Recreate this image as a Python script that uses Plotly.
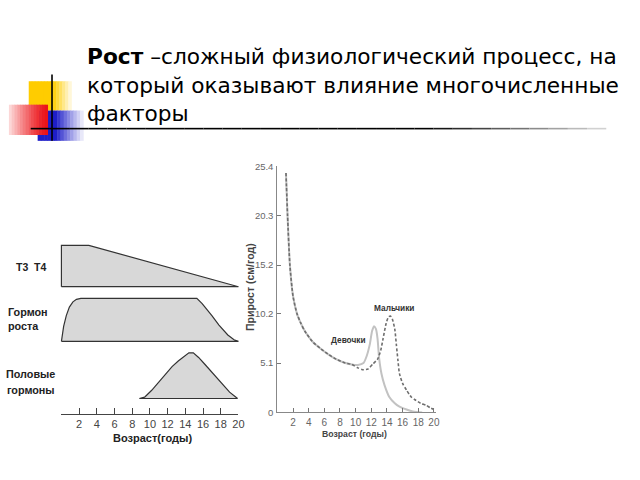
import plotly.graph_objects as go

W, H = 640, 480
def px(x): return x / W
def py(y): return 1 - y / H

# ---------------- data ----------------
# left panel: relative hormone levels vs age (years)
t3t4_age = [0, 0, 3.1, 20]
t3t4_level = [0, 1, 1, 0]
gh_age = [0, 0.25, 0.55, 0.9, 1.3, 1.7, 2.2, 15.3, 15.9, 16.5, 17.0, 17.8, 18.8, 19.5, 20]
gh_level = [0, 0.35, 0.6, 0.8, 0.92, 0.98, 1.0, 1.0, 0.88, 0.74, 0.6, 0.38, 0.15, 0.04, 0]
sex_age = [8.8, 9.4, 10.2, 11.0, 11.7, 12.5, 13.2, 13.9, 14.4, 14.9, 15.5, 16.2, 17.1, 18.1, 19.0, 19.9]
sex_level = [0, 0.03, 0.18, 0.36, 0.54, 0.7, 0.82, 0.93, 1.0, 1.0, 0.9, 0.75, 0.55, 0.32, 0.14, 0]
left_ticks = [0, 2, 4, 6, 8, 10, 12, 14, 16, 18, 20]
left_ticktext = ["", "2", "4", "6", "8", "10", "12", "14", "16", "18", "20"]

# right panel: growth velocity (cm/year)
girls_age = [1.1, 1.3, 1.6, 2.0, 2.5, 3.0, 3.5, 4.5, 5.5, 6.5, 7.5, 8.5, 9.5, 10.3, 11.0, 11.4,
             11.8, 12.1, 12.35, 12.6, 12.8, 13.0, 13.3, 13.7, 14.3, 15.0, 15.6, 16.5, 17.3, 18.5]
girls_vel = [24.7, 20.3, 15.2, 12.0, 10.2, 9.2, 8.4, 7.3, 6.6, 6.0, 5.5, 5.15, 4.95, 4.9, 5.1, 5.8,
             7.0, 8.4, 8.9, 8.6, 7.6, 5.6, 4.0, 2.8, 1.6, 0.95, 0.6, 0.3, 0.1, 0.0]
boys_age = [1.1, 1.3, 1.6, 2.0, 2.5, 3.0, 3.5, 4.5, 5.5, 6.5, 7.5, 8.5, 9.5, 10.3, 11.0, 11.6,
            12.2, 12.8, 13.2, 13.5, 13.9, 14.2, 14.45, 14.7, 15.0, 15.2, 15.4, 15.6, 16.0, 16.5,
            17.1, 17.7, 18.3, 19.0, 19.6, 20.2]
boys_vel = [24.7, 20.3, 15.2, 12.0, 10.2, 9.2, 8.4, 7.3, 6.6, 6.0, 5.5, 5.15, 4.95, 4.6, 4.4, 4.5,
            5.0, 5.5, 6.4, 7.6, 9.2, 9.85, 9.95, 9.6, 8.6, 7.0, 5.4, 4.0, 3.0, 2.3,
            1.6, 1.25, 0.95, 0.75, 0.45, 0.25]
right_yticks = [0, 5.1, 10.2, 15.2, 20.3, 25.4]
right_xticks = [2, 4, 6, 8, 10, 12, 14, 16, 18, 20]

FONT_N = "Liberation Sans Narrow, Liberation Sans, Arial"
fig = go.Figure()

def close(xs, ys):
    return list(xs) + [xs[0]], list(ys) + [0]

fill_kw = dict(mode="lines", fill="toself", fillcolor="#d8d8d8",
               line=dict(color="#333333", width=1.2), hoverinfo="skip", showlegend=False)
x, y = close(t3t4_age, t3t4_level)
fig.add_trace(go.Scatter(x=x, y=y, xaxis="x", yaxis="y", **fill_kw))
x, y = close(gh_age, gh_level)
fig.add_trace(go.Scatter(x=x, y=y, xaxis="x", yaxis="y2", **fill_kw))
x, y = close(sex_age, sex_level)
fig.add_trace(go.Scatter(x=x, y=y, xaxis="x2", yaxis="y3", **fill_kw))

fig.add_trace(go.Scatter(x=girls_age, y=girls_vel, xaxis="x3", yaxis="y4", mode="lines",
                         line=dict(color="#c2c2c2", width=2, shape="spline", smoothing=0.6),
                         hoverinfo="skip", showlegend=False))
fig.add_trace(go.Scatter(x=boys_age, y=boys_vel, xaxis="x3", yaxis="y4", mode="lines",
                         line=dict(color="#6e6e6e", width=1.6, dash="3px,2px", shape="spline", smoothing=0.6),
                         hoverinfo="skip", showlegend=False))

# left x scale: 0 -> 62px, 20 -> 240.7px
x0p, x20p = 62.0, 240.7
u = (x20p - x0p) / 20
pad = 0.5
def strip_domain(base, top, m=0.04):
    h = base - top
    return [py(base + m * h), py(top - m * h)]

hidden = dict(visible=False, fixedrange=True)
fig.update_layout(
    width=W, height=H, margin=dict(l=0, r=0, t=0, b=0),
    paper_bgcolor="white", plot_bgcolor="rgba(0,0,0,0)",
    xaxis=dict(domain=[px(x0p - pad * u), px(x20p + pad * u)], range=[-pad, 20 + pad],
               anchor="y", **hidden),
    xaxis2=dict(domain=[px(x0p), px(x20p)], range=[0, 20], anchor="free", position=py(417.7),
                tickvals=left_ticks, ticktext=left_ticktext, ticks="inside", ticklen=6,
                tickcolor="#444", showline=True, linecolor="#444", linewidth=1.2,
                showgrid=False, zeroline=False, fixedrange=True,
                tickfont=dict(family=FONT_N, size=11, color="#444")),
    yaxis=dict(domain=strip_domain(287.3, 245), range=[-0.04, 1.04], anchor="x", **hidden),
    yaxis2=dict(domain=strip_domain(343.3, 299.3), range=[-0.04, 1.04], anchor="x", **hidden),
    yaxis3=dict(domain=strip_domain(401.7, 355), range=[-0.04, 1.04], anchor="x2", **hidden),
    xaxis3=dict(domain=[px(280), px(440)], range=[0, 20.25], anchor="y4",
                tickvals=right_xticks, ticks="inside", ticklen=4, tickcolor="#777",
                showline=True, linecolor="#888", linewidth=1.2, showgrid=False, zeroline=False,
                fixedrange=True, tickfont=dict(family=FONT_N, size=10, color="#666")),
    yaxis4=dict(domain=[py(416), py(164)], range=[0, 25.4], anchor="x3",
                tickvals=right_yticks, ticktext=[str(v) if v else "0" for v in right_yticks],
                ticks="inside", ticklen=4, tickcolor="#777", ticklabelstandoff=1,
                showline=True, linecolor="#888", linewidth=1.2, showgrid=False, zeroline=False,
                fixedrange=True, tickfont=dict(family=FONT_N, size=9.5, color="#666")),
)

ann = []
def A(text, x, y, size, color="#222", xanchor="center", family=FONT_N, angle=0):
    ann.append(dict(text=text, x=px(x), y=py(y), xref="paper", yref="paper", showarrow=False,
                    xanchor=xanchor, yanchor="middle", textangle=angle,
                    font=dict(family=family, size=size, color=color)))

TF = "DejaVu Sans"
A("<b>Рост</b> –сложный физиологический процесс, на", 86, 52, 21.7, "#000", "left", TF)
A("который оказывают влияние многочисленные", 86, 81, 21.7, "#000", "left", TF)
A("факторы", 86, 110, 21.7, "#000", "left", TF)

A("<b>T3  T4</b>", 32, 267, 10.5)
A("<b>Гормон</b>", 28.5, 313, 10.8)
A("<b>роста</b>", 24, 327, 10.8)
A("<b>Половые</b>", 31, 377, 10.8)
A("<b>гормоны</b>", 31, 393, 10.8)
A("<b>Возраст(годы)</b>", 154, 442, 11)

A("<b>Прирост (см/год)</b>", 253, 288, 10.5, "#444", angle=-90)
A("<b>Возраст (годы)</b>", 358, 438, 8.7, "#444")
A("<b>Мальчики</b>", 398, 309, 8.3, "#333")
A("<b>Девочки</b>", 352, 342, 8.3, "#333")
fig.update_layout(annotations=ann)

# decorative slide bullet squares and rule
shapes = []
def rect(x0, y0, x1, y1, color):
    shapes.append(dict(type="rect", xref="paper", yref="paper", x0=px(x0), x1=px(x1),
                       y0=py(y1), y1=py(y0), fillcolor=color, line=dict(width=0), layer="above"))
def mix(c1, c2, t):
    return "rgb(%d,%d,%d)" % tuple(round(a + (b - a) * t) for a, b in zip(c1, c2))

WHITE = (255, 255, 255)
n = 14
# yellow
for i in range(n):
    xa = 29 + (72 - 29) * i / n; xb = 29 + (72 - 29) * (i + 1) / n
    t = max(0, (xa - 52) / 20)
    rect(xa, 77, xb + 0.5, 107, mix((255, 204, 0), WHITE, min(t, 1)))
# blue
for i in range(n):
    xa = 38 + (84 - 38) * i / n; xb = 38 + (84 - 38) * (i + 1) / n
    t = max(0, (xa - 55) / 29)
    rect(xa, 107, xb + 0.5, 138, mix((30, 30, 200), WHITE, min(t, 1) ** 0.9))
# red
for i in range(n):
    xa = 9 + (48 - 9) * i / n; xb = 9 + (48 - 9) * (i + 1) / n
    t = 1 - i / (n - 1)
    rect(xa, 101, xb + 0.5, 132, mix((235, 20, 25), (252, 215, 215), t ** 1.3))
# lines
shapes.append(dict(type="line", xref="paper", yref="paper", x0=px(52.5), x1=px(52.5),
                   y0=py(70), y1=py(138), line=dict(color="#000", width=1.6), layer="above"))
segs = 30
for i in range(segs):
    xa = 31 + (612 - 31) * i / segs; xb = 31 + (612 - 31) * (i + 1) / segs
    t = max(0, (xa - 420) / 190)
    shapes.append(dict(type="line", xref="paper", yref="paper", x0=px(xa), x1=px(xb),
                       y0=py(125.5), y1=py(125.5),
                       line=dict(color=mix((0, 0, 0), (230, 230, 230), min(t, 1)), width=1.6),
                       layer="above"))
fig.update_layout(shapes=shapes)

fig.write_html("out.html", config={"displayModeBar": False},
               post_script="document.body.style.margin='0px';")
